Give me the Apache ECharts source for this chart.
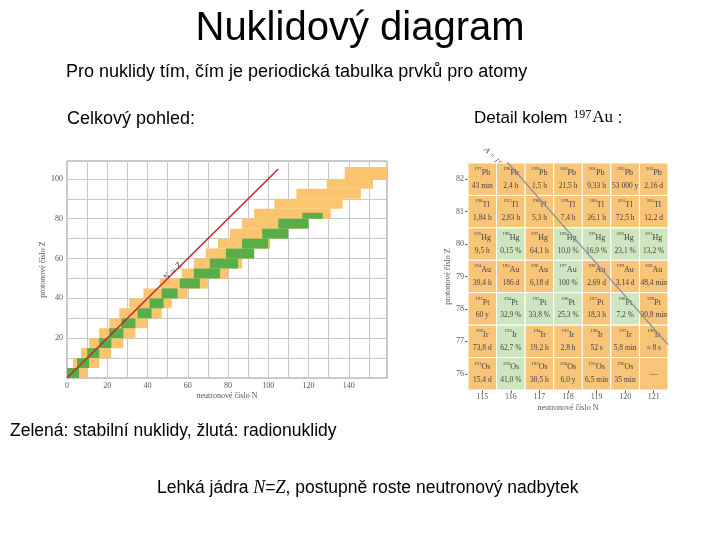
<!DOCTYPE html>
<html><head><meta charset="utf-8">
<script src="https://cdn.jsdelivr.net/npm/echarts@6/dist/echarts.min.js"></script>
<style>html,body{margin:0;background:#fff}#c{width:720px;height:540px}</style>
</head><body><div id="c"></div>
<script>
// nuklidový diagram: pásy po 5 protonech [zOd, zDo, nOd, nDo]
const bandRadio = [
  [0,5,0,10],[5,10,3,16],[10,15,7,22],[15,20,11,28],[20,25,16,34],[25,30,21,40],
  [30,35,26,47],[35,40,31,52],[40,45,38,60],[45,50,46,70],[50,55,57,80],[55,60,63,87],
  [60,65,69,93],[65,70,75,101],[70,75,81,107],[75,80,87,117],[80,85,93,131],
  [85,90,103,137],[90,95,114,146],[95,100,129,152],[100,106,138,159]
];
const bandStable = [
  [0,5,0,6],[5,10,5,11],[10,15,10,16],[15,20,16,22],[20,25,21,28],[25,30,27,34],
  [30,35,35,42],[35,40,41,48],[40,45,47,55],[45,50,56,66],[50,55,63,76],[55,60,71,85],
  [60,65,79,93],[65,70,87,100],[70,75,97,110],[75,80,105,120],[80,83,117,127]
];
const lineNZ = [[0,0],[105,105]];

// detail kolem Au-197
const detN = [115,116,117,118,119,120,121];
const detZ = [82,81,80,79,78,77,76];
const detSym = ['Pb','Tl','Hg','Au','Pt','Ir','Os'];
const detHalf = [
  ['43 min','2,4 h','1,5 h','21,5 h','9,33 h','53 000 y','2,16 d'],
  ['1,84 h','2,83 h','5,3 h','7,4 h','26,1 h','72,5 h','12,2 d'],
  ['9,5 h','0,15 %','64,1 h','10,0 %','16,9 %','23,1 %','13,2 %'],
  ['39,4 h','186 d','6,18 d','100 %','2,69 d','3,14 d','48,4 min'],
  ['60 y','32,9 %','33,8 %','25,3 %','18,3 h','7,2 %','30,8 min'],
  ['73,8 d','62,7 %','19,2 h','2,8 h','52 s','5,8 min','≈ 8 s'],
  ['15,4 d','41,0 %','30,5 h','6,0 y','6,5 min','35 min','—']
];
const lineA197 = [[115.4,83.0],[121.5,76.9]];

const YEL = '#fbc46e', GRN = '#5aae4a', CELLO = '#f8c477', CELLG = '#cde6bf';

const detData = [];
detZ.forEach((z, i) => detN.forEach((n, j) => {
  const h = detHalf[i][j];
  detData.push([n, z, h === '—' ? '' : (n + z), h === '—' ? '' : detSym[i], h]);
}));

function bandItem(color) {
  return function (params, api) {
    const p1 = api.coord([api.value(2), api.value(1)]);
    const p2 = api.coord([api.value(3), api.value(0)]);
    return { type: 'rect', shape: { x: p1[0], y: p1[1], width: p2[0] - p1[0], height: p2[1] - p1[1] },
      style: { fill: color } };
  };
}

const serif = 'Liberation Serif';
const sans = 'Liberation Sans';
const chart = echarts.init(document.getElementById('c'));
chart.setOption({
  animation: false,
  grid: [
    { left: 67, top: 161, right: 333, bottom: 162, show: true, borderColor: '#999', borderWidth: 1 },
    { left: 468, top: 163, right: 52, bottom: 150 }
  ],
  xAxis: [
    { gridIndex: 0, type: 'value', min: 0, max: 159, interval: 10,
      axisLine: { show: false }, axisTick: { show: false },
      axisLabel: { fontFamily: serif, fontSize: 8, color: '#555', margin: 4,
        formatter: v => (v % 20 === 0 ? v : '') },
      splitLine: { lineStyle: { color: '#c8c8c8' } },
      name: 'neutronové číslo N', nameLocation: 'middle', nameGap: 14,
      nameTextStyle: { fontFamily: serif, fontSize: 8, color: '#555' } },
    { gridIndex: 1, type: 'value', min: 114.5, max: 121.5, interval: 0.5,
      axisLine: { show: false }, axisTick: { customValues: detN, length: 3 },
      axisLabel: { customValues: detN, fontFamily: serif, fontSize: 8, color: '#555', margin: 3 },
      splitLine: { show: false },
      name: 'neutronové číslo N', nameLocation: 'middle', nameGap: 14,
      nameTextStyle: { fontFamily: serif, fontSize: 8, color: '#555' } }
  ],
  yAxis: [
    { gridIndex: 0, type: 'value', min: 0, max: 109, interval: 10,
      axisLine: { show: false }, axisTick: { show: false },
      axisLabel: { fontFamily: serif, fontSize: 8, color: '#555', margin: 4,
        formatter: v => (v % 20 === 0 && v > 0 ? v : '') },
      splitLine: { lineStyle: { color: '#c8c8c8' } },
      name: 'protonové číslo Z', nameLocation: 'middle', nameGap: 16,
      nameTextStyle: { fontFamily: serif, fontSize: 8, color: '#555' } },
    { gridIndex: 1, type: 'value', min: 75.5, max: 82.5, interval: 0.5,
      axisLine: { show: true, lineStyle: { color: '#666' } }, axisTick: { customValues: detZ, length: 3 },
      axisLabel: { customValues: detZ, fontFamily: serif, fontSize: 8, color: '#555', margin: 4 },
      splitLine: { show: false },
      name: 'protonové číslo Z', nameLocation: 'middle', nameGap: 14,
      nameTextStyle: { fontFamily: serif, fontSize: 8, color: '#555' } }
  ],
  series: [
    { type: 'custom', xAxisIndex: 0, yAxisIndex: 0, data: bandRadio, renderItem: bandItem(YEL) },
    { type: 'custom', xAxisIndex: 0, yAxisIndex: 0, data: bandStable, renderItem: bandItem(GRN) },
    { type: 'line', xAxisIndex: 0, yAxisIndex: 0, data: lineNZ, symbol: 'none',
      lineStyle: { color: '#c0272d', width: 1.5 } },
    { type: 'custom', xAxisIndex: 1, yAxisIndex: 1, data: detData,
      renderItem: function (params, api) {
        const n = api.value(0), z = api.value(1);
        const p1 = api.coord([n - 0.5, z + 0.5]);
        const p2 = api.coord([n + 0.5, z - 0.5]);
        const half = detData[params.dataIndex][4];
        const stable = half.indexOf('%') >= 0;
        const w = p2[0] - p1[0], h = p2[1] - p1[1];
        return { type: 'group', children: [
          { type: 'rect', shape: { x: p1[0], y: p1[1], width: w, height: h },
            style: { fill: stable ? CELLG : CELLO, stroke: '#fff', lineWidth: 1 } },
          { type: 'text', x: p1[0] + w / 2, y: p1[1] + h / 2,
            style: { text: half === '—' ? '{s|—}' : '{m|' + detData[params.dataIndex][2] + '}{s|' + detData[params.dataIndex][3] + '}\n{h|' + half + '}',
              align: 'center', verticalAlign: 'middle',
              rich: { m: { fontFamily: serif, fontSize: 5, verticalAlign: 'top', fill: '#444' },
                      s: { fontFamily: serif, fontSize: 8, fill: '#444', lineHeight: 13 },
                      h: { fontFamily: serif, fontSize: 7.5, fill: '#444', lineHeight: 13 } } } }
        ] };
      } },
    { type: 'line', xAxisIndex: 1, yAxisIndex: 1, data: lineA197, symbol: 'none', z: 5,
      lineStyle: { color: '#8a8f9a', width: 1.3 } }
  ],
  graphic: [
    { type: 'text', left: 'center', top: 9, style: { text: 'Nuklidový diagram', fontFamily: sans, fontSize: 40, fill: '#000' } },
    { type: 'text', left: 66, top: 63, style: { text: 'Pro nuklidy tím, čím je periodická tabulka prvků pro atomy', fontFamily: sans, fontSize: 18, fill: '#000' } },
    { type: 'text', left: 67, top: 110, style: { text: 'Celkový pohled:', fontFamily: sans, fontSize: 18, fill: '#000' } },
    { type: 'text', left: 474, top: 109, style: { text: 'Detail kolem {m|197}{a|Au} :', fontFamily: sans, fontSize: 17, fill: '#000',
      rich: { m: { fontFamily: serif, fontSize: 12, verticalAlign: 'top', padding: [0, 1, 6, 1] }, a: { fontFamily: serif, fontSize: 17 } } } },
    { type: 'text', left: 10, top: 422, style: { text: 'Zelená: stabilní nuklidy, žlutá: radionuklidy', fontFamily: sans, fontSize: 17.5, fill: '#000' } },
    { type: 'text', left: 157, top: 479, style: { text: 'Lehká jádra {i|N}={i|Z}, postupně roste neutronový nadbytek', fontFamily: sans, fontSize: 17.5, fill: '#000',
      rich: { i: { fontFamily: serif, fontStyle: 'italic', fontSize: 18 } } } },
    { type: 'text', x: 162, y: 276, rotation: Math.PI / 4, style: { text: 'N = Z', fontFamily: serif, fontStyle: 'italic', fontSize: 9, fill: '#333' } },
    { type: 'text', x: 488, y: 146, rotation: -Math.PI / 4, style: { text: 'A = 197', fontFamily: serif, fontStyle: 'italic', fontSize: 8, fill: '#555' } }
  ]
});
</script></body></html>
